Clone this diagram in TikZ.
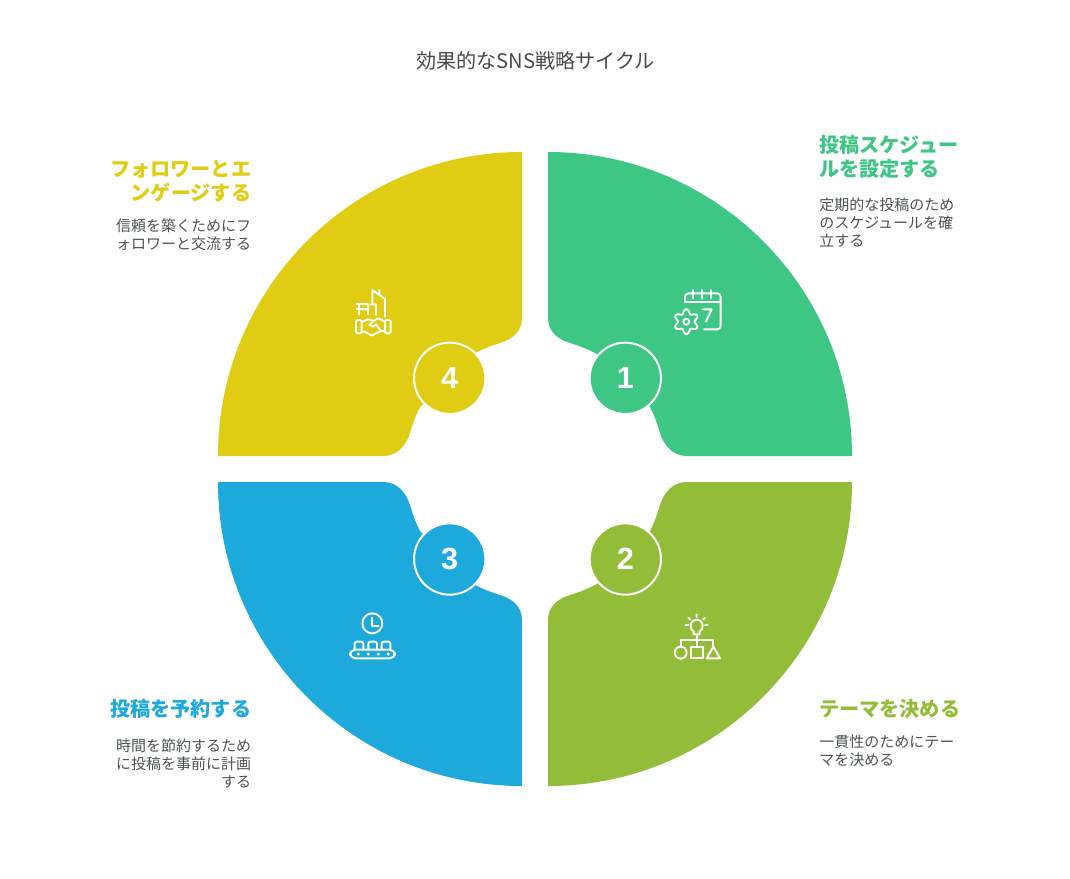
\documentclass[tikz,border=0pt]{standalone}
\usepackage{fontspec}
\setmainfont{Noto Sans CJK JP}
\newfontfamily\numfont{Liberation Sans}
\definecolor{cgreen}{HTML}{3EC684}
\definecolor{colive}{HTML}{93BD38}
\definecolor{cblue}{HTML}{1EA9DC}
\definecolor{cyellow}{HTML}{DFCC13}
\definecolor{ctitle}{HTML}{4A4A4A}
\definecolor{cbody}{HTML}{4D5354}
\tikzset{
  petal/.style={fill=#1,draw=none},
  numdisc/.style={circle,fill=#1,draw=white,line width=1.5pt,minimum size=53.5pt,inner sep=0pt,text=white,font=\numfont\bfseries\fontsize{23}{24}\selectfont},
  headtext/.style={inner sep=0pt,text=#1,font=\fontsize{15.1}{18}\selectfont\bfseries},
  bodytext/.style={inner sep=0pt,text=cbody,font=\fontsize{11.25}{13.5}\selectfont},
  icon/.style={draw=white,line width=1.4pt,line cap=round,line join=round},
  icondot/.style={fill=white,draw=none}
}
\newcommand{\petalshape}{(13,317) arc[start angle=90,end angle=0,radius=304] -- (152,13)
  .. controls (137,13) and (129,24) .. (125,36)
  .. controls (122,46) and (120,52) .. (115,62) -- (62,115)
  .. controls (52,120) and (45,123) .. (35,126)
  .. controls (22,130) and (13,138) .. (13,151) -- cycle}
\begin{document}
\begin{tikzpicture}[x=0.75pt,y=-0.75pt]
\useasboundingbox (0,0) rectangle (1070,878);
\fill[white] (0,0) rectangle (1070,878);
% petals
\begin{scope}[shift={(535,469)},yscale=-1]
  \fill[petal=cgreen] \petalshape;
\end{scope}
\begin{scope}[shift={(535,469)}]
  \fill[petal=colive] \petalshape;
\end{scope}
\begin{scope}[shift={(535,469)},xscale=-1]
  \fill[petal=cblue] \petalshape;
\end{scope}
\begin{scope}[shift={(535,469)},xscale=-1,yscale=-1]
  \fill[petal=cyellow] \petalshape;
\end{scope}
% discs
\node[numdisc=cgreen] (n1) at (625.3,378.3) {1};
\node[numdisc=colive] (n2) at (625.3,559) {2};
\node[numdisc=cblue] (n3) at (449.7,559) {3};
\node[numdisc=cyellow] (n4) at (449.7,378.3) {4};
% title
\node[inner sep=0pt,text=ctitle,font=\fontsize{15.1}{18}\selectfont] (title) at (535.5,61) {効果的なSNS戦略サイクル};
% texts
\node[headtext=cgreen,anchor=north west,align=left] (h1) at (819,135) {投稿スケジュー\\ルを設定する};
\node[bodytext,anchor=north west,align=left] (b1) at (819,198) {定期的な投稿のため\\のスケジュールを確\\立する};
\node[headtext=colive,anchor=north west,align=left] (h2) at (819,699) {テーマを決める};
\node[bodytext,anchor=north west,align=left] (b2) at (819,735) {一貫性のためにテー\\マを決める};
\node[headtext=cblue,anchor=north east,align=right] (h3) at (251.5,699) {投稿を予約する};
\node[bodytext,anchor=north east,align=right] (b3) at (251.5,738.5) {時間を節約するため\\に投稿を事前に計画\\する};
\node[headtext=cyellow,anchor=north east,align=right] (h4) at (251.5,159.5) {フォロワーとエ\\ンゲージする};
\node[bodytext,anchor=north east,align=right] (b4) at (251.5,219) {信頼を築くためにフ\\ォロワーと交流する};
% icon 1: calendar and gear
\begin{scope}[shift={(640,270)},scale=0.3333]
  \draw[icon,rounded corners=2.6pt] (135,97) -- (135,70) -- (242,70) -- (242,178) -- (192,178);
  \draw[icon] (135,97) -- (242,97);
  \draw[icon] (160,60) -- (160,85) (187,60) -- (187,85) (213,60) -- (213,85);
  \draw[icon] (188,118) -- (215,118) -- (198,155);
  \draw[icon,smooth cycle] plot[domain=0:354,samples=60] ({139+(31-6.5*cos(6*\x))*cos(\x)},{155+(31-6.5*cos(6*\x))*sin(\x)});
  \draw[icon] (139,155) circle[radius=9];
\end{scope}
% icon 2: bulb and shapes
\begin{scope}[shift={(660,605)},scale=0.3333]
  \draw[icon] (101,88) -- (101,80) .. controls (95,76) and (92,70) .. (92,62) arc[start angle=180,end angle=360,radius=18] .. controls (128,70) and (125,76) .. (119,80) -- (119,88) -- cycle;
  \draw[icon] (110,88) -- (110,125) (62,105) -- (160,105) (62,105) -- (62,125) (160,105) -- (160,125);
  \draw[icon] (62,143) circle[radius=18];
  \draw[icon] (92,125) rectangle (128,160);
  \draw[icon] (140,160) -- (160,125) -- (180,160) -- cycle;
  \draw[icon] (110,28) -- (110,36) (85,38) -- (91,44) (135,38) -- (129,44) (77,60) -- (85,60) (135,60) -- (143,60);
\end{scope}
% icon 3: clock and conveyor
\begin{scope}[shift={(340,605)},scale=0.3333]
  \draw[icon] (97,55) circle[radius=30];
  \draw[icon] (97,38) -- (97,62) -- (115,62);
  \draw[icon,rounded corners=4pt] (30,160) rectangle (165,134);
  \draw[icon,rounded corners=1.5pt] (44,134) -- (44,110) -- (70,110) -- (70,134);
  \draw[icon,rounded corners=1.5pt] (85,134) -- (85,110) -- (111,110) -- (111,134);
  \draw[icon,rounded corners=1.5pt] (125,134) -- (125,110) -- (151,110) -- (151,134);
  \foreach \p in {55,85,115,145} \fill[icondot] (\p,147) circle[radius=5];
\end{scope}
% icon 4: handshake and buildings
\begin{scope}[shift={(340,275)},scale=0.3333]
  \draw[icon] (50,88) -- (84,88) (50,103) -- (80,103) (56,88) -- (56,118) (84,88) -- (84,118);
  \draw[icon] (108,120) -- (108,88) -- (92,88) (97,45) -- (97,88) (97,45) -- (135,72) -- (135,125) (118,45) -- (118,60) ;
  \draw[icon,rounded corners=1pt] (48,135) rectangle (65,175);
  \draw[icon,rounded corners=1pt] (135,135) rectangle (152,175);
  \draw[icon] (65,140) -- (85,133) -- (100,138) -- (115,130) -- (135,140);
  \draw[icon] (65,170) -- (75,170) -- (95,182) -- (122,168) -- (135,168);
  \draw[icon] (100,138) -- (88,150) -- (100,155) -- (108,148) -- (122,168);
\end{scope}
\end{tikzpicture}
\end{document}
